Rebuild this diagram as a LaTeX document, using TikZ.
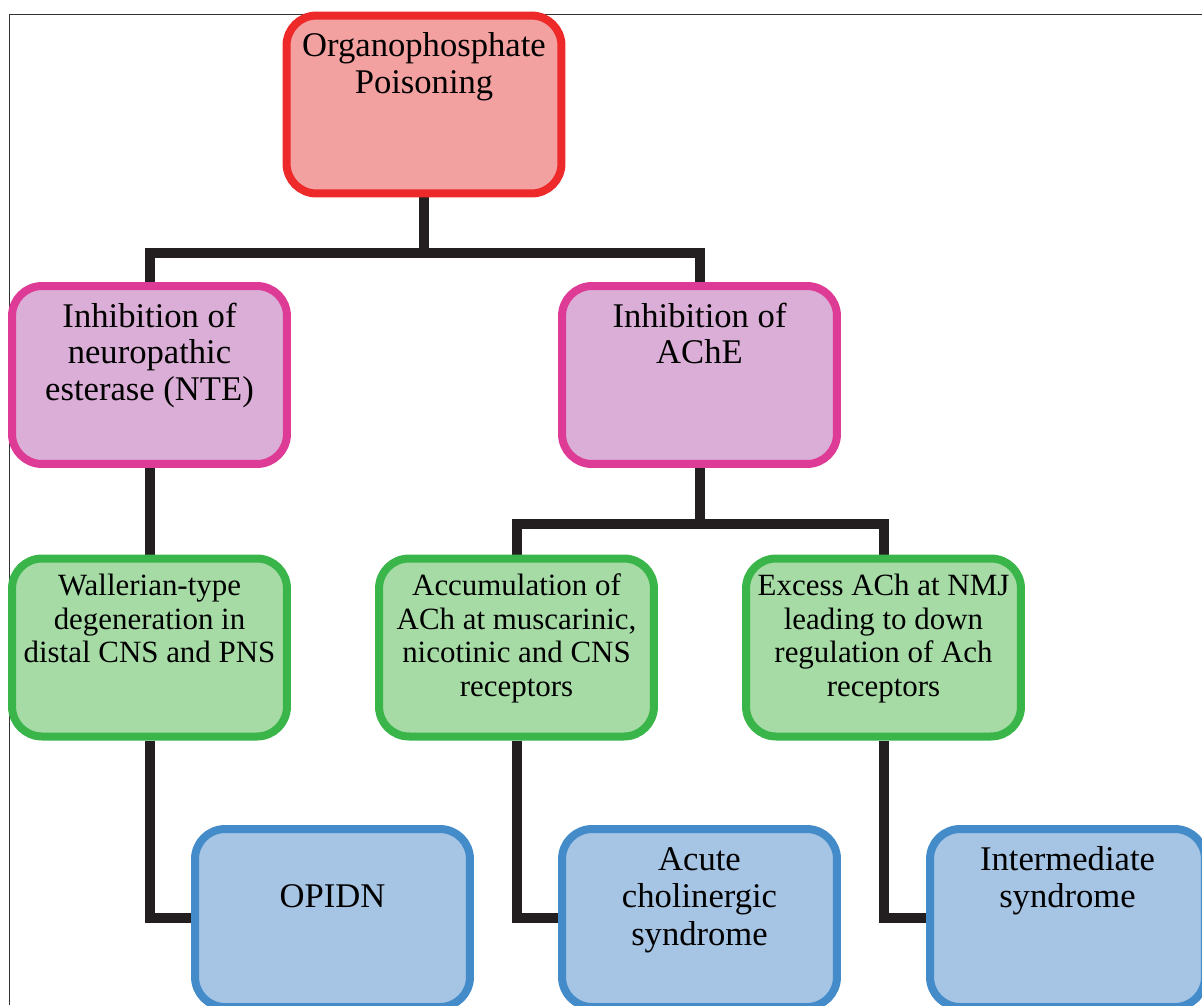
\documentclass[tikz,border=0pt]{standalone}
\usepackage{fontspec}
\setmainfont{Liberation Serif}
\usepackage{tikz}
\usepackage{xcolor}
\usetikzlibrary{positioning,backgrounds}
\definecolor{opRedLine}{RGB}{237,41,41}
\definecolor{opRedFill}{RGB}{243,160,160}
\definecolor{inhLine}{RGB}{222,59,151}
\definecolor{inhFill}{RGB}{218,174,214}
\definecolor{effLine}{RGB}{57,181,74}
\definecolor{effFill}{RGB}{166,219,166}
\definecolor{synLine}{RGB}{68,140,201}
\definecolor{synFill}{RGB}{166,196,228}
\definecolor{linkBlack}{RGB}{35,31,32}
% lines stacked from the top of the box
\newcommand{\boxlines}[1]{\begin{tabular}[t]{@{}c@{}}#1\end{tabular}}
\tikzset{%
	box/.style      = {draw, rectangle, rounded corners=0.6cm, line width=0.16cm, inner sep=0pt, minimum width=5.5cm, text height=0.82cm, text depth=2.74cm, font=\fontsize{19.7}{21}\selectfont},
	topbox/.style   = {box, draw=opRedLine, fill=opRedFill},
	inhibbox/.style = {box, draw=inhLine, fill=inhFill},
	effectbox/.style= {box, draw=effLine, fill=effFill, text height=0.74cm, text depth=2.82cm, font=\fontsize{17.6}{19.1}\selectfont},
	syndbox/.style  = {box, draw=synLine, fill=synFill, font=\fontsize{19.7}{21.6}\selectfont},
	link/.style     = {draw=linkBlack, line width=0.2cm},
}
\begin{document}
\begin{tikzpicture}[x=0.02cm,y=-0.02cm]
	\useasboundingbox (0,0) rectangle (1202,1005);
	% frame
	\draw[line width=0.8pt, black!80] (9.5,1005) |- (1202,14.5);
	
	% top
	\node[topbox] (opp) at (424,104.5) {\boxlines{Organophosphate\\Poisoning}};
	
	% inhibition level
	\node[inhibbox] (nte) at (149.5,375) {\boxlines{Inhibition of\\neuropathic\\esterase (NTE)}};
	\node[inhibbox] (ache) at (699.5,375) {\boxlines{Inhibition of\\AChE}};
	
	% effects
	\node[effectbox] (waller) at (149.5,647.5) {\boxlines{Wallerian-type\\degeneration in\\distal CNS and PNS}};
	\node[effectbox] (accum) at (516.5,647.5) {\boxlines{Accumulation of\\ACh at muscarinic,\\nicotinic and CNS\\receptors}};
	\node[effectbox] (excess) at (883.5,647.5) {\boxlines{Excess ACh at NMJ\\leading to down\\regulation of Ach\\receptors}};
	
	% syndromes
	\node[syndbox, text height=1.56cm, text depth=2.0cm] (opidn) at (332.5,918) {OPIDN};
	\node[syndbox] (acute) at (699.5,918) {\boxlines{Acute\\cholinergic\\syndrome}};
	\node[syndbox] (inter) at (1067.5,918) {\boxlines{Intermediate\\syndrome}};
	
	\coordinate (hub1) at (424,253);
	\coordinate (hub2) at (699.5,524);
	
	\begin{scope}[on background layer]
		\draw[link] (opp.south) -- (hub1);
		\draw[link] (nte.north) |- (hub1) -| (ache.north);
		\draw[link] (nte.south) -- (waller.north);
		\draw[link] (ache.south) -- (hub2);
		\draw[link] (accum.north) |- (hub2) -| (excess.north);
		\draw[link] (waller.south) |- (opidn.west);
		\draw[link] (accum.south) |- (acute.west);
		\draw[link] (excess.south) |- (inter.west);
	\end{scope}
\end{tikzpicture}
\end{document}
